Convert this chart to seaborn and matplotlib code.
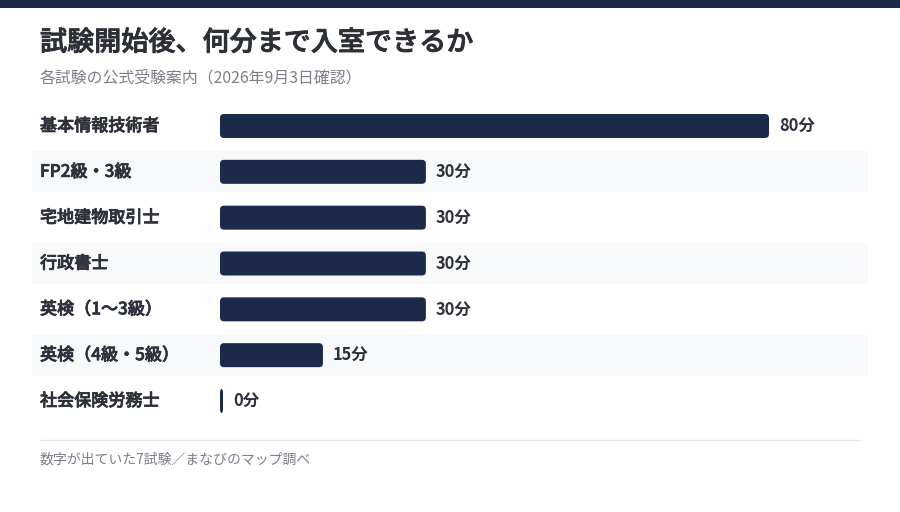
import matplotlib
matplotlib.use("Agg")
import matplotlib.pyplot as plt
import matplotlib.patheffects as pe
import seaborn as sns
import pandas as pd
from matplotlib.patches import FancyBboxPatch, Rectangle
from matplotlib.lines import Line2D

categories = ["基本情報技術者", "FP2級・3級", "宅地建物取引士", "行政書士", "英検（1〜3級）", "英検（4級・5級）", "社会保険労務士"]
minutes = [80, 30, 30, 30, 30, 15, 0]
value_labels = ["80分", "30分", "30分", "30分", "30分", "15分", "0分"]
title = "試験開始後、何分まで入室できるか"
subtitle = "各試験の公式受験案内（2026年9月3日確認）"
footer = "数字が出ていた7試験／まなびのマップ調べ"

NAVY = "#1c2a4a"
TEXT = "#2b303b"
sns.set_theme(style="white")
plt.rcParams['font.family'] = ['Noto Sans CJK JP', 'DejaVu Sans']

W, H = 900, 512
fig = plt.figure(figsize=(9, 5.12), dpi=100)
fig.patch.set_facecolor("white")

# top band
fig.patches.append(Rectangle((0, 1 - 8 / H), 1, 8 / H, transform=fig.transFigure,
                             facecolor=NAVY, edgecolor="none"))

# axes placement in pixels
ax_l, ax_r = 32, 868
row0, rowN = 126, 401
n = len(categories)
step = (rowN - row0) / (n - 1)
top_px = row0 - step / 2
bot_px = rowN + step / 2
ax = fig.add_axes([ax_l / W, 1 - bot_px / H, (ax_r - ax_l) / W, (bot_px - top_px) / H])

px_per_unit = (769 - 220) / 80.0
xmin = -(220 - ax_l) / px_per_unit
xmax = (ax_r - 220) / px_per_unit

df = pd.DataFrame({"cat": categories, "min": minutes})
min_w = 3 / px_per_unit
df["draw"] = [max(v, min_w) for v in minutes]

sns.barplot(data=df, x="draw", y="cat", orient="h", color=NAVY, width=24 / step, ax=ax,
            saturation=1, zorder=2)

# replace with rounded bars
aspect = px_per_unit / step
r = 4 / px_per_unit
for p in list(ax.patches):
    x0, y0, w, h = p.get_x(), p.get_y(), p.get_width(), p.get_height()
    p.remove()
    rr = min(r, w / 2)
    fb = FancyBboxPatch((x0, y0), w, h, boxstyle=f"round,pad=0,rounding_size={rr}",
                        mutation_aspect=(r / rr) * aspect if rr < r else aspect,
                        facecolor=NAVY, edgecolor="none", zorder=2)
    ax.add_patch(fb)

# alternating row bands (drawn after bar replacement)
for i in range(n):
    if i % 2 == 1:
        ax.axhspan(i - 0.45, i + 0.45, xmin=0, xmax=1, facecolor="#f8f9fb", edgecolor="none", zorder=0)

ax.set_xlim(xmin, xmax)
ax.set_ylim(n - 0.5, -0.5)
ax.set_xlabel("")
ax.set_ylabel("")
ax.set_xticks([])
ax.set_yticks([])
for s in ax.spines.values():
    s.set_visible(False)
ax.set_facecolor("none")

thick = [pe.withStroke(linewidth=0.5, foreground=TEXT)]
label_x = (40 - ax_l) / (ax_r - ax_l)
for i, (c, v, lab) in enumerate(zip(categories, df["draw"], value_labels)):
    ax.text(label_x, i, c, transform=ax.get_yaxis_transform(), ha="left", va="center",
            fontsize=12.3, fontweight="medium", color=TEXT, path_effects=thick)
    ax.annotate(lab, xy=(v, i), xytext=(7.2, 0), textcoords="offset points",
                ha="left", va="center", fontsize=11.8, fontweight="bold", color=TEXT)

fig.text(40 / W, 1 - 43 / H, title, ha="left", va="center", fontsize=19.5, fontweight="medium",
         color="#2b2f36", path_effects=[pe.withStroke(linewidth=0.6, foreground="#2b2f36")])
fig.text(40 / W, 1 - 78 / H, subtitle, ha="left", va="center", fontsize=11.4, color="#7a7f88")
fig.lines.append(Line2D([40 / W, 860 / W], [1 - 440 / H, 1 - 440 / H], transform=fig.transFigure,
                        color="#e6e8ec", linewidth=1))
fig.text(40 / W, 1 - 460 / H, footer, ha="left", va="center", fontsize=10, color="#7a7f88")

fig.savefig("out.png", dpi=100, facecolor="white")
